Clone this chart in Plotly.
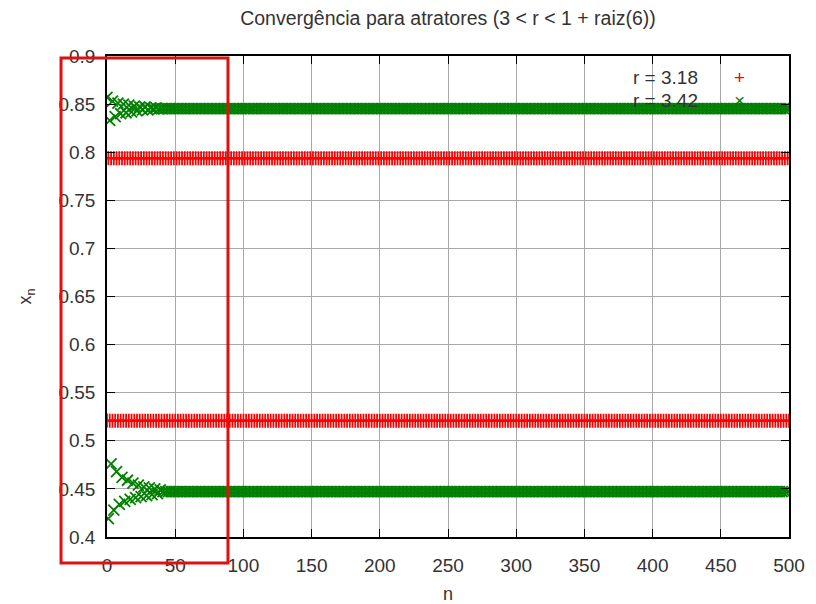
import plotly.graph_objects as go

# ---- data ----
n_max = 500
x_ticks = [0, 50, 100, 150, 200, 250, 300, 350, 400, 450, 500]
y_ticks = [0.4, 0.45, 0.5, 0.55, 0.6, 0.65, 0.7, 0.75, 0.8, 0.85, 0.9]
y_tick_labels = ["0.4", "0.45", "0.5", "0.55", "0.6", "0.65", "0.7", "0.75", "0.8", "0.85", "0.9"]

# r = 3.18 : already on its 2-cycle from the start
r318_transient = [0.521, 0.794]
r318_cycle = [0.5209, 0.7936]

# r = 3.42 : damped oscillation toward its 2-cycle
r342_transient = [0.857, 0.419, 0.833, 0.476, 0.853, 0.428, 0.837, 0.468, 0.851, 0.434,
                  0.840, 0.462, 0.850, 0.437, 0.841, 0.459, 0.849, 0.439, 0.842, 0.456,
                  0.848, 0.441, 0.843, 0.454, 0.847, 0.442, 0.844, 0.452, 0.847, 0.443,
                  0.844, 0.451, 0.846, 0.444, 0.845, 0.450, 0.846, 0.445, 0.845, 0.449]
r342_cycle = [0.8454, 0.4471]

labels = ["r = 3.18", "r = 3.42"]
title_text = "Convergência para atratores (3 < r < 1 + raiz(6))"


def build(transient, cycle):
    vals = list(transient)
    i = 0
    while len(vals) < n_max + 1:
        vals.append(cycle[i % 2])
        i += 1
    return vals


n = list(range(n_max + 1))
y318 = build(r318_transient, r318_cycle)
y342 = build(r342_transient, r342_cycle)

RED = "#ff0000"
GREEN = "#008000"
FONT = "Liberation Sans, Arial, sans-serif"
TXT = "#333333"

fig = go.Figure()
fig.add_trace(go.Scatter(x=n, y=y318, mode="markers", name=labels[0], showlegend=False,
                         marker=dict(symbol="cross-thin", size=10, color=RED,
                                     line=dict(color=RED, width=1.8))))
fig.add_trace(go.Scatter(x=n, y=y342, mode="markers", name=labels[1], showlegend=False,
                         marker=dict(symbol="x-thin", size=11, color=GREEN,
                                     line=dict(color=GREEN, width=1.8))))

axis_common = dict(showline=True, linecolor="black", linewidth=1.5, mirror="ticks",
                   ticks="inside", ticklen=8, tickcolor="black", tickwidth=1.2,
                   showgrid=True, gridcolor="#a8a8a8", gridwidth=1, zeroline=False,
                   automargin=False,
                   tickfont=dict(family=FONT, size=19, color=TXT))

fig.update_layout(
    width=816, height=604,
    margin=dict(l=107, r=27, t=56, b=67),
    paper_bgcolor="white", plot_bgcolor="white",
    font=dict(family=FONT, color=TXT),
    title=dict(text=title_text, x=0.549, xanchor="center", y=0.970, yanchor="middle",
               yref="container", font=dict(family=FONT, size=19.5, color=TXT)),
    xaxis=dict(range=[0, 500], tickvals=x_ticks, ticktext=[str(v) for v in x_ticks],
               ticklabelstandoff=10,
               title=dict(text="n", standoff=22, font=dict(family=FONT, size=18, color=TXT)),
               **axis_common),
    yaxis=dict(range=[0.4, 0.9], tickvals=y_ticks, ticktext=y_tick_labels,
               ticklabelstandoff=6,
               title=dict(text="x<sub>n</sub>", standoff=22, font=dict(family=FONT, size=18, color=TXT)),
               **axis_common),
)

# gnuplot-style key (text then symbol)
fig.add_annotation(x=0.8695, y=0.956, xref="paper", yref="paper", text=labels[0],
                   showarrow=False, xanchor="right", yanchor="middle",
                   font=dict(family=FONT, size=19, color=TXT))
fig.add_annotation(x=0.8695, y=0.9085, xref="paper", yref="paper", text=labels[1],
                   showarrow=False, xanchor="right", yanchor="middle",
                   font=dict(family=FONT, size=19, color=TXT))
fig.add_annotation(x=0.928, y=0.956, xref="paper", yref="paper", text="+",
                   showarrow=False, xanchor="center", yanchor="middle",
                   font=dict(family=FONT, size=19, color=RED))
fig.add_annotation(x=0.928, y=0.9085, xref="paper", yref="paper", text="×",
                   showarrow=False, xanchor="center", yanchor="middle",
                   font=dict(family=FONT, size=19, color=GREEN))

# red highlight rectangle
fig.add_shape(type="rect", xref="paper", yref="paper",
              x0=-0.0674, x1=0.1774, y0=-0.054, y1=0.9958,
              line=dict(color="#e01010", width=3), fillcolor="rgba(0,0,0,0)", layer="above")

fig.write_html("out.html")
